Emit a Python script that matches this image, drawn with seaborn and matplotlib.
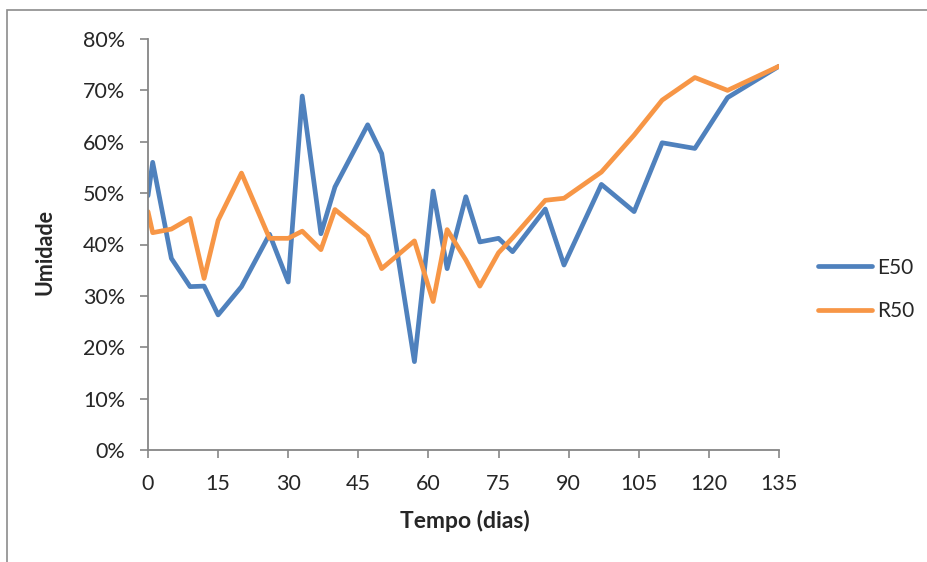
import numpy as np
import pandas as pd
import matplotlib
matplotlib.use("Agg")
import matplotlib.pyplot as plt
import seaborn as sns
from matplotlib.patches import Rectangle
from matplotlib.ticker import FuncFormatter

days = [0, 1, 5, 9, 12, 15, 20, 26, 30, 33, 37, 40, 47, 50, 57, 61, 64, 68,
        71, 75, 78, 85, 89, 97, 104, 110, 117, 124, 135]
e50 = [49.5, 56.0, 37.3, 31.8, 31.9, 26.3, 31.8, 42.0, 32.7, 68.9, 42.1, 51.2,
       63.3, 57.7, 17.2, 50.4, 35.3, 49.3, 40.5, 41.2, 38.6, 46.9, 36.0, 51.7,
       46.4, 59.8, 58.7, 68.6, 74.7]
r50 = [46.4, 42.3, 43.0, 45.1, 33.4, 44.7, 53.9, 41.2, 41.2, 42.6, 39.0, 46.8,
       41.6, 35.3, 40.7, 28.9, 42.9, 37.0, 31.9, 38.4, 41.3, 48.6, 49.0, 54.1,
       61.3, 68.1, 72.5, 70.0, 74.7]
series_names = ["E50", "R50"]
colors = ["#4F81BD", "#F79646"]
x_ticks = [0, 15, 30, 45, 60, 75, 90, 105, 120, 135]
y_ticks = [0, 10, 20, 30, 40, 50, 60, 70, 80]

df = pd.DataFrame({
    "Tempo": days * 2,
    "Umidade": [v / 100 for v in e50] + [v / 100 for v in r50],
    "Serie": [series_names[0]] * len(days) + [series_names[1]] * len(days),
})

sns.set_style("white")
plt.rcParams["font.family"] = ["Lato", "DejaVu Sans"]

fig = plt.figure(figsize=(9.28, 5.62), dpi=100)
ax = fig.add_axes([148 / 928, 1 - 450 / 562, (779 - 148) / 928, (450 - 39) / 562])

sns.lineplot(data=df, x="Tempo", y="Umidade", hue="Serie",
             palette=dict(zip(series_names, colors)), linewidth=3.4,
             ax=ax, sort=False)
for ln in ax.lines:
    ln.set_solid_joinstyle("round")
    ln.set_solid_capstyle("round")

ax.set_xlim(0, 135)
ax.set_ylim(0, 0.8)
ax.set_xticks(x_ticks)
ax.set_yticks([v / 100 for v in y_ticks])
ax.yaxis.set_major_formatter(FuncFormatter(lambda v, p: f"{v*100:.0f}%"))
ax.tick_params(axis="both", which="major", length=5.5, width=1.2, color="#868686",
               labelsize=15.5, direction="out", bottom=True, left=True)
ax.tick_params(axis="x", pad=12)
ax.tick_params(axis="y", pad=11)
for s in ["top", "right"]:
    ax.spines[s].set_visible(False)
for s in ["left", "bottom"]:
    ax.spines[s].set_color("#868686")
    ax.spines[s].set_linewidth(1.3)

ax.set_xlabel("Tempo (dias)", fontsize=16.5, fontweight="bold")
ax.set_ylabel("Umidade", fontsize=15.5, fontweight="bold")
ax.xaxis.label.set_va("center")
ax.yaxis.label.set_va("center")
ax.xaxis.set_label_coords(0.502, (450 - 521) / 411)
ax.yaxis.set_label_coords((45 - 148) / 631, (450 - 252) / 411)

leg = ax.legend(loc="center left", bbox_to_anchor=(808 / 928, 1 - 289.5 / 562),
                bbox_transform=fig.transFigure, frameon=False, borderpad=0,
                fontsize=15, handlelength=2.55, labelspacing=1.15, handletextpad=0.25)
for h in leg.get_lines():
    h.set_linewidth(3.4)
    h.set_solid_capstyle("round")

fig.patches.append(Rectangle((7 / 928, -0.1), 1.2, 1 - 10 / 562 + 0.1,
                             transform=fig.transFigure, fill=False,
                             edgecolor="#8c8c8c", linewidth=1.2))

fig.savefig("out.png", dpi=100)
